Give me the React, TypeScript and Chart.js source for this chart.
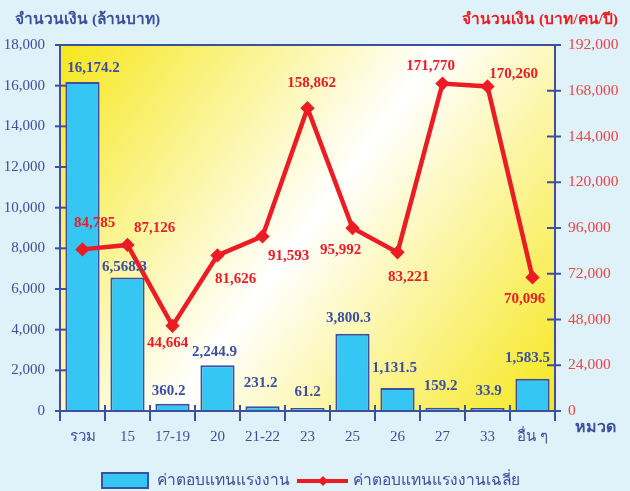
import React, { useEffect, useRef } from "react";
import { Chart, registerables } from "chart.js";

Chart.register(...registerables);

const categories = ["รวม", "15", "17-19", "20", "21-22", "23", "25", "26", "27", "33", "อื่น ๆ"];
const wages = [16174.2, 6568.3, 360.2, 2244.9, 231.2, 61.2, 3800.3, 1131.5, 159.2, 33.9, 1583.5];
const avgWages = [84785, 87126, 44664, 81626, 91593, 158862, 95992, 83221, 171770, 170260, 70096];
const leftTicks = { min: 0, max: 18000, step: 2000 };
const rightTicks = { min: 0, max: 192000, step: 24000 };
const leftTitle = "จำนวนเงิน (ล้านบาท)";
const rightTitle = "จำนวนเงิน (บาท/คน/ปี)";
const xTitle = "หมวด";
const barLegend = "ค่าตอบแทนแรงงาน";
const lineLegend = "ค่าตอบแทนแรงงานเฉลี่ย";

// label offsets (px) of the bar value labels relative to the bar's value pixel
const barLabelOffsets: [number, number][] = [
  [11, -14], [-3, -10], [-4, -13], [-3, -13], [-2, -23], [0, -18],
  [-4, -16], [-3, -20], [-2, -22], [1, -19], [-5, -21],
];
// label offsets (px) of the line value labels relative to their points
const lineLabelOffsets: [number, number][] = [
  [12, -26], [27, -17], [-5, 17], [18, 24], [26, 20], [4, -25],
  [-12, 22], [11, 25], [-12, -17], [26, -12], [-8, 22],
];

const BLUE = "#3d4f9f";
const RED = "#ec1c24";
const BAR_FILL = "#35c6f4";
const SERIF = "'Liberation Serif', 'Times New Roman', serif";

const fmt1 = (v: number) =>
  v.toLocaleString("en-US", { minimumFractionDigits: 1, maximumFractionDigits: 1 });
const fmt0 = (v: number) => v.toLocaleString("en-US");

const decorPlugin = {
  id: "decor",
  beforeDatasetsDraw(chart: any) {
    const { ctx, chartArea: a } = chart;
    ctx.save();
    const g = ctx.createLinearGradient(a.left, a.top, a.right, a.bottom);
    g.addColorStop(0, "#f6e71c");
    g.addColorStop(0.5, "#ffffff");
    g.addColorStop(1, "#f6e71c");
    ctx.fillStyle = g;
    ctx.fillRect(a.left, a.top, a.right - a.left, a.bottom - a.top);
    ctx.restore();
  },
  afterDatasetsDraw(chart: any) {
    const { ctx, chartArea: a, scales } = chart;
    ctx.save();
    ctx.strokeStyle = BLUE;
    ctx.lineWidth = 2;
    ctx.strokeRect(a.left, a.top, a.right - a.left, a.bottom - a.top);
    const yL = scales.y;
    for (let v = leftTicks.min; v <= leftTicks.max; v += leftTicks.step) {
      const py = yL.getPixelForValue(v);
      ctx.beginPath();
      ctx.moveTo(a.left - 5, py);
      ctx.lineTo(a.left + 7, py);
      ctx.stroke();
    }
    const yR = scales.y1;
    for (let v = rightTicks.min; v <= rightTicks.max; v += rightTicks.step) {
      const py = yR.getPixelForValue(v);
      ctx.beginPath();
      ctx.moveTo(a.right - 8, py);
      ctx.lineTo(a.right + 6, py);
      ctx.stroke();
    }
    const xs = scales.x;
    const w = (a.right - a.left) / categories.length;
    for (let i = 0; i <= categories.length; i++) {
      const px = i < categories.length ? xs.getPixelForValue(i) - w / 2 : xs.getPixelForValue(i - 1) + w / 2;
      ctx.beginPath();
      ctx.moveTo(px, a.bottom - 6);
      ctx.lineTo(px, a.bottom + 10);
      ctx.stroke();
    }
    ctx.textAlign = "center";
    ctx.textBaseline = "middle";
    ctx.font = `bold 15px ${SERIF}`;
    ctx.fillStyle = BLUE;
    wages.forEach((v, i) => {
      const [dx, dy] = barLabelOffsets[i];
      ctx.fillText(fmt1(v), xs.getPixelForValue(i) + dx, yL.getPixelForValue(v) + dy);
    });
    ctx.fillStyle = RED;
    const lineMeta = chart.getDatasetMeta(1);
    lineMeta.data.forEach((el: any, i: number) => {
      const [dx, dy] = lineLabelOffsets[i];
      ctx.fillText(fmt0(avgWages[i]), el.x + dx, el.y + dy);
    });
    ctx.restore();
  },
  afterDraw(chart: any) {
    const { ctx, chartArea: a } = chart;
    ctx.save();
    ctx.textBaseline = "middle";
    ctx.font = `bold 15.5px ${SERIF}`;
    ctx.fillStyle = BLUE;
    ctx.textAlign = "left";
    ctx.fillText(leftTitle, 15, 20);
    ctx.fillStyle = RED;
    ctx.textAlign = "right";
    ctx.fillText(rightTitle, 618, 20);
    ctx.fillStyle = BLUE;
    ctx.textAlign = "left";
    ctx.font = `bold 16px ${SERIF}`;
    ctx.fillText(xTitle, a.right + 20, a.bottom + 17);
    ctx.fillStyle = BAR_FILL;
    ctx.strokeStyle = BLUE;
    ctx.lineWidth = 2;
    ctx.fillRect(102, 473, 46, 15);
    ctx.strokeRect(102, 473, 46, 15);
    ctx.font = `15.5px ${SERIF}`;
    ctx.fillStyle = BLUE;
    ctx.fillText(barLegend, 157, 481);
    ctx.strokeStyle = RED;
    ctx.lineWidth = 4;
    ctx.beginPath();
    ctx.moveTo(297, 481);
    ctx.lineTo(348, 481);
    ctx.stroke();
    ctx.fillStyle = RED;
    ctx.beginPath();
    ctx.moveTo(323, 476);
    ctx.lineTo(328, 481);
    ctx.lineTo(323, 486);
    ctx.lineTo(318, 481);
    ctx.closePath();
    ctx.fill();
    ctx.fillStyle = BLUE;
    ctx.fillText(lineLegend, 353, 481);
    ctx.restore();
  },
};

export default function App() {
  const ref = useRef<HTMLCanvasElement>(null);
  useEffect(() => {
    document.body.style.margin = "0";
    const chart = new Chart(ref.current as HTMLCanvasElement, {
      type: "bar",
      data: {
        labels: categories,
        datasets: [
          {
            type: "bar",
            label: barLegend,
            data: wages,
            yAxisID: "y",
            backgroundColor: BAR_FILL,
            borderColor: BLUE,
            borderWidth: 2,
            borderSkipped: "bottom",
            barPercentage: 0.76,
            categoryPercentage: 1,
            minBarLength: 3,
            order: 2,
          },
          {
            type: "line",
            label: lineLegend,
            data: avgWages,
            yAxisID: "y1",
            borderColor: RED,
            backgroundColor: RED,
            borderWidth: 4.5,
            pointStyle: "rectRot",
            pointRadius: 4,
            pointBackgroundColor: RED,
            pointBorderColor: RED,
            tension: 0,
            order: 1,
          },
        ],
      } as any,
      options: {
        responsive: false,
        animation: false,
        layout: { padding: { top: 45, left: 0, right: 0, bottom: 42 } },
        plugins: { legend: { display: false }, tooltip: { enabled: false } },
        scales: {
          x: {
            type: "category",
            offset: true,
            grid: { display: false, drawTicks: false },
            border: { display: false },
            ticks: { color: BLUE, font: { family: SERIF, size: 15 }, padding: 17, maxRotation: 0, autoSkip: false },
            afterFit: (s: any) => { s.height = 38; },
          },
          y: {
            position: "left",
            min: leftTicks.min,
            max: leftTicks.max,
            grid: { display: false, drawTicks: false },
            border: { display: false },
            ticks: {
              stepSize: leftTicks.step,
              color: BLUE,
              font: { family: SERIF, size: 15 },
              padding: 15,
              callback: (v: any) => fmt0(Number(v)),
            },
            afterFit: (s: any) => { s.width = 60; },
          },
          y1: {
            position: "right",
            min: rightTicks.min,
            max: rightTicks.max,
            grid: { display: false, drawTicks: false },
            border: { display: false },
            ticks: {
              stepSize: rightTicks.step,
              color: "#e8454a",
              font: { family: SERIF, size: 15.5 },
              padding: 13,
              callback: (v: any) => fmt0(Number(v)),
            },
            afterFit: (s: any) => { s.width = 75; },
          },
        },
      } as any,
      plugins: [decorPlugin],
    });
    return () => chart.destroy();
  }, []);
  return (
    <div style={{ position: "relative", width: 630, height: 491, background: "#dff1f9" }}>
      <canvas ref={ref} width={630} height={491} />
    </div>
  );
}
